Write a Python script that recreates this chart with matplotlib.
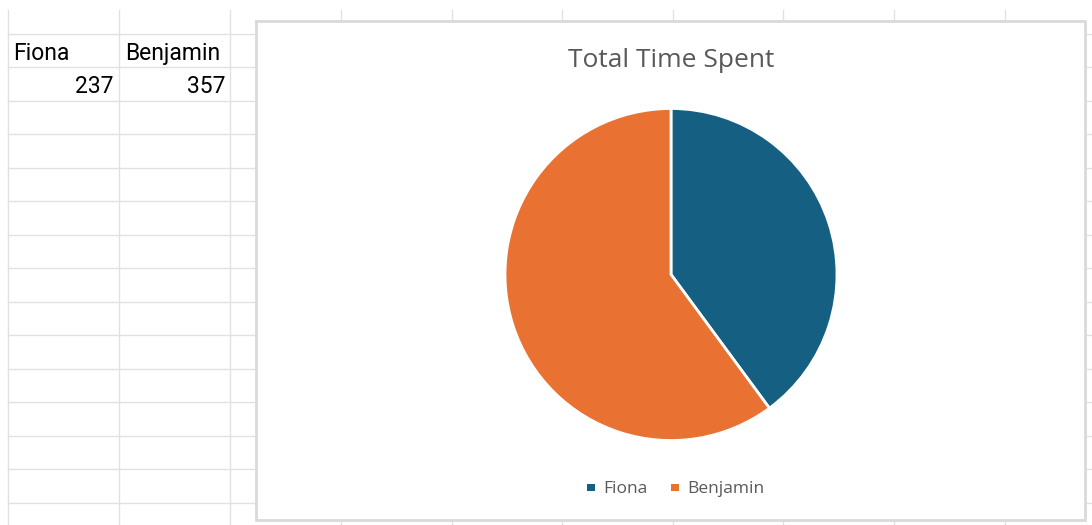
import matplotlib.pyplot as plt
from matplotlib.patches import Rectangle

# data from the sheet
names = ['Fiona', 'Benjamin']
minutes = [237, 357]
colors = ['#156082', '#E97132']
chart_title = 'Total Time Spent'

W, H = 1092, 525
fig = plt.figure(figsize=(W / 100, H / 100), dpi=100, facecolor='white')

# sheet layer in pixel coordinates
sheet = fig.add_axes([0, 0, 1, 1])
sheet.set_xlim(0, W)
sheet.set_ylim(H, 0)
sheet.axis('off')

grid_c = '#e1e1e1'
col_x = [8, 119, 230, 341, 452, 562, 673, 783, 894, 1005]
row_y = [33.5 + 33.5 * i for i in range(15)]
for x in col_x:
    sheet.plot([x, x], [10, H], color=grid_c, lw=1, zorder=1)
for y in row_y:
    sheet.plot([8, W], [y, y], color=grid_c, lw=1, zorder=1)

# cell contents
cell_font = dict(fontsize=16.5, color='#000000', family='Roboto', va='baseline')
sheet.text(13, 60, names[0], ha='left', **cell_font)
sheet.text(125, 60, names[1], ha='left', **cell_font)
sheet.text(114, 93, str(minutes[0]), ha='right', **cell_font)
sheet.text(225, 93, str(minutes[1]), ha='right', **cell_font)

# chart area
sheet.add_patch(Rectangle((256, 21), 829, 499, facecolor='white',
                          edgecolor='#d9d9d9', lw=2, zorder=3))
sheet.text(671, 67, chart_title, ha='center', va='baseline', fontsize=19,
           color='#595959', family='Open Sans', zorder=4)

# pie
cx, cy, r = 671, 274.5, 166
pie_ax = fig.add_axes([(cx - r) / W, 1 - (cy + r) / H, 2 * r / W, 2 * r / H])
pie_ax.pie(minutes, colors=colors, startangle=90, counterclock=False,
           wedgeprops=dict(edgecolor='white', linewidth=2))
pie_ax.set_xlim(-1.0, 1.0)
pie_ax.set_ylim(-1.0, 1.0)
pie_ax.set_aspect('equal')
pie_ax.axis('off')

# legend
leg_font = dict(fontsize=12.5, color='#595959', family='Open Sans', va='baseline', zorder=4)
lx = [587, 671]
for x, name, c in zip(lx, names, colors):
    sheet.add_patch(Rectangle((x, 483.5), 7.5, 7.5, facecolor=c, edgecolor='none', zorder=4))
    sheet.text(x + 16, 493, name, ha='left', **leg_font)

fig.savefig('out.png', dpi=100)
